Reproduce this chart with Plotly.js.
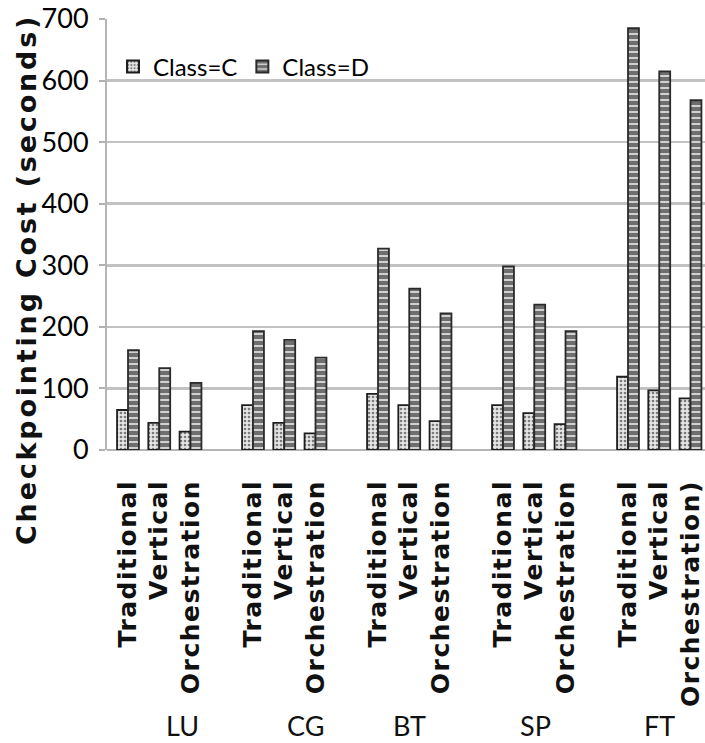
<!DOCTYPE html>
<html>
<head>
<meta charset="utf-8">
<script src="https://cdn.plot.ly/plotly-3.0.1.min.js"></script>
<style>
  html, body { margin: 0; padding: 0; background: #fff; }
  #chart { width: 705px; height: 743px; }
</style>
</head>
<body>
<div id="chart"></div>
<script>
// ---- data ----
const groups = ['LU', 'CG', 'BT', 'SP', 'FT'];
const methods = ['Traditional', 'Vertical', 'Orchestration'];
const tickLabels = [
  'Traditional', 'Vertical', 'Orchestration',
  'Traditional', 'Vertical', 'Orchestration',
  'Traditional', 'Vertical', 'Orchestration',
  'Traditional', 'Vertical', 'Orchestration',
  'Traditional', 'Vertical', 'Orchestration)'
];
const classC = [65, 44, 30, 73, 44, 27, 91, 73, 47, 73, 60, 42, 119, 97, 84];
const classD = [162, 133, 109, 193, 179, 150, 327, 262, 222, 298, 236, 193, 685, 615, 568];
const seriesNames = ['Class=C', 'Class=D'];
const yTicks = [0, 100, 200, 300, 400, 500, 600, 700];
const yTitle = 'Checkpointing Cost (seconds)';

// slot positions: each benchmark group takes 4 slots (3 methods + gap)
const xPos = [];
groups.forEach((g, gi) => methods.forEach((m, mi) => xPos.push(gi * 4 + mi)));
const groupLabelX = [1.74, 5.68, 9.02, 13.04, 17.02];

const traceC = {
  type: 'bar', name: seriesNames[0], x: xPos, y: classC,
  marker: {
    color: '#e6e6e6',
    pattern: { shape: '.', fgcolor: '#7a7a7a', bgcolor: '#e6e6e6', size: 4, solidity: 0.35 },
    line: { color: '#1e1e1e', width: 1.8 }
  },
  hoverinfo: 'y'
};
const traceD = {
  type: 'bar', name: seriesNames[1], x: xPos, y: classD,
  marker: {
    color: '#707070',
    pattern: { shape: '-', fgcolor: '#f2f2f2', bgcolor: '#6e6e6e', size: 6, solidity: 0.25 },
    line: { color: '#2a2a2a', width: 1.8 }
  },
  hoverinfo: 'y'
};

const plotLeft = 107, plotTop = 19, plotW = 705 - 107, plotH = 450 - 19;

const annotations = groups.map((g, i) => ({
  text: g, x: groupLabelX[i], xref: 'x', y: -0.64, yref: 'paper',
  xanchor: 'center', yanchor: 'middle', showarrow: false,
  font: { family: 'Lato, sans-serif', size: 27, color: '#111' }
}));
annotations.push({
  text: '<span style="letter-spacing:2.8px">' + yTitle + '</span>',
  textangle: -90,
  x: (26 - plotLeft) / plotW, xref: 'paper',
  y: (450 - 280) / plotH, yref: 'paper',
  showarrow: false, xanchor: 'center', yanchor: 'middle',
  font: { family: 'DejaVu Sans, sans-serif', size: 27, weight: 'bold', color: '#111' }
});

const layout = {
  width: 705, height: 743,
  margin: { l: plotLeft, r: 0, t: plotTop, b: 743 - 450, pad: 0 },
  paper_bgcolor: '#fff', plot_bgcolor: '#fff',
  barmode: 'group', bargap: 0.3, bargroupgap: 0,
  showlegend: true,
  legend: {
    orientation: 'h', x: 0.01, xanchor: 'left', y: (450 - 67) / plotH, yanchor: 'middle',
    bgcolor: 'rgba(0,0,0,0)', font: { family: 'Lato, sans-serif', size: 24, color: '#000' },
    itemsizing: 'constant', traceorder: 'normal'
  },
  xaxis: {
    range: [-(128 - plotLeft) / 31.25, -(128 - plotLeft) / 31.25 + plotW / 31.25],
    tickmode: 'array', tickvals: xPos,
    ticktext: tickLabels.map(t => '<span style="letter-spacing:1.5px">' + t + '</span>'),
    tickangle: -90, ticks: '', ticklabelstandoff: 24, ticklabeloverflow: 'allow',
    tickfont: { family: 'DejaVu Sans, sans-serif', size: 25, weight: 'bold', color: '#111' },
    showgrid: false, zeroline: false, showline: false, fixedrange: true
  },
  yaxis: {
    range: [0, 700], tickmode: 'array', tickvals: yTicks,
    ticks: 'outside', ticklen: 6, tickcolor: '#b0b0b0', tickwidth: 2,
    ticklabelstandoff: 5,
    tickfont: { family: 'Lato, sans-serif', size: 27, color: '#000' },
    showgrid: true, gridcolor: '#c2c2c2', gridwidth: 2.5,
    zeroline: true, zerolinecolor: '#b5b5b5', zerolinewidth: 2.5,
    showline: true, linecolor: '#b5b5b5', linewidth: 2, fixedrange: true
  },
  annotations: annotations
};

Plotly.newPlot('chart', [traceC, traceD], layout, { displayModeBar: false, staticPlot: true });
</script>
</body>
</html>
